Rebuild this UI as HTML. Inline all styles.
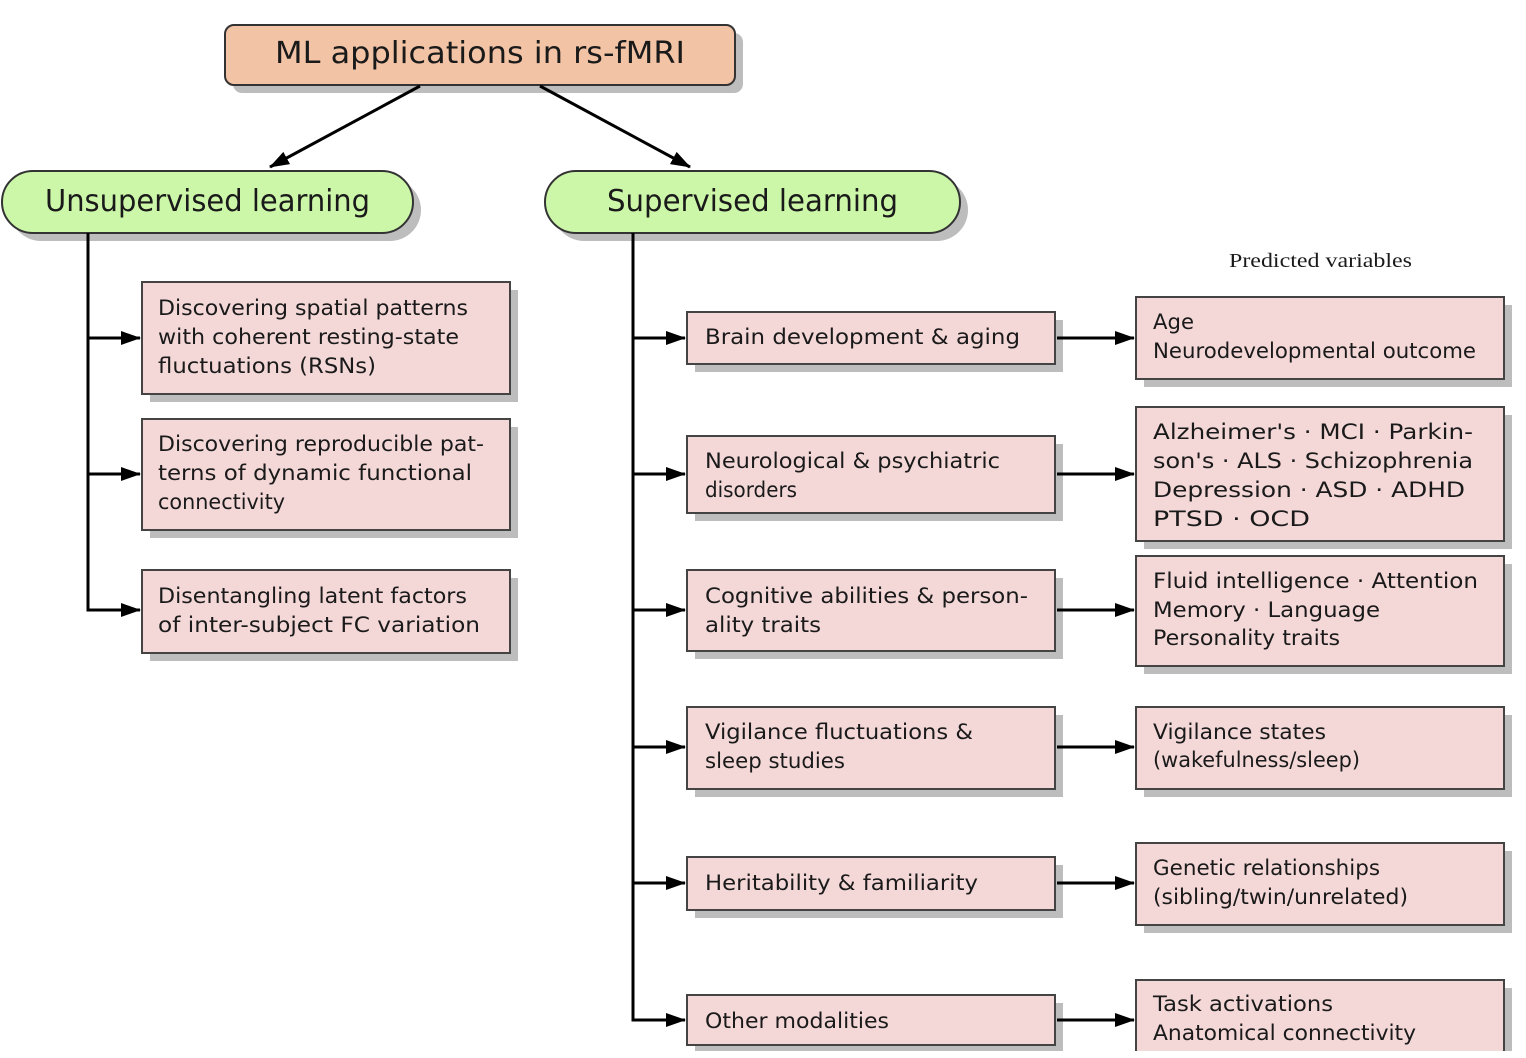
<!DOCTYPE html>
<html><head><meta charset="utf-8"><style>
html,body{margin:0;padding:0;background:#fff;}
svg{display:block;}
text{font-family:"DejaVu Sans","Liberation Sans",sans-serif;fill:#1a1a1a;}
.t{font-size:21px;}
</style></head><body>
<svg width="1526" height="1058" viewBox="0 0 1526 1058" xmlns="http://www.w3.org/2000/svg">
<defs>
<marker id="ah2" markerWidth="20" markerHeight="16" refX="19" refY="8" orient="auto" markerUnits="userSpaceOnUse" viewBox="0 0 20 16">
<path d="M0,1 L20,8 L0,15 Z" fill="#000"/></marker>
</defs>
<rect width="1526" height="1058" fill="#fff"/>

<g fill="#bdbdbd">
<rect x="233" y="33" width="510" height="60" rx="9"/>
<rect x="10" y="179" width="411" height="62" rx="31"/>
<rect x="553" y="179" width="415" height="62" rx="31"/>
<rect x="150" y="290" width="368" height="112"/>
<rect x="150" y="427" width="368" height="111"/>
<rect x="150" y="578" width="368" height="83"/>
<rect x="695" y="320" width="368" height="52"/>
<rect x="695" y="444" width="368" height="77"/>
<rect x="695" y="578" width="368" height="81"/>
<rect x="695" y="715" width="368" height="82"/>
<rect x="695" y="865" width="368" height="53"/>
<rect x="695" y="1003" width="368" height="50"/>
<rect x="1144" y="305" width="368" height="82"/>
<rect x="1144" y="415" width="368" height="134"/>
<rect x="1144" y="564" width="368" height="110"/>
<rect x="1144" y="715" width="368" height="82"/>
<rect x="1144" y="851" width="368" height="82"/>
<rect x="1144" y="988" width="368" height="80"/>
</g>

<rect x="225" y="25" width="510" height="60" rx="9" fill="#f2c3a5" stroke="#333" stroke-width="2"/>
<rect x="2" y="171" width="411" height="62" rx="31" fill="#ccf7a9" stroke="#333" stroke-width="2"/>
<rect x="545" y="171" width="415" height="62" rx="31" fill="#ccf7a9" stroke="#333" stroke-width="2"/>
<g fill="#f4d8d8" stroke="#444" stroke-width="2">
<rect x="142" y="282" width="368" height="112"/>
<rect x="142" y="419" width="368" height="111"/>
<rect x="142" y="570" width="368" height="83"/>
<rect x="687" y="312" width="368" height="52"/>
<rect x="687" y="436" width="368" height="77"/>
<rect x="687" y="570" width="368" height="81"/>
<rect x="687" y="707" width="368" height="82"/>
<rect x="687" y="857" width="368" height="53"/>
<rect x="687" y="995" width="368" height="50"/>
<rect x="1136" y="297" width="368" height="82"/>
<rect x="1136" y="407" width="368" height="134"/>
<rect x="1136" y="556" width="368" height="110"/>
<rect x="1136" y="707" width="368" height="82"/>
<rect x="1136" y="843" width="368" height="82"/>
<rect x="1136" y="980" width="368" height="90"/>
</g>

<g stroke="#000" stroke-width="3" fill="none">
<line x1="420" y1="86" x2="270" y2="167" marker-end="url(#ah2)"/>
<line x1="540" y1="86" x2="690" y2="167" marker-end="url(#ah2)"/>
<path d="M88,233 V610 H140" marker-end="url(#ah2)"/>
<line x1="88" y1="338" x2="140" y2="338" marker-end="url(#ah2)"/>
<line x1="88" y1="474" x2="140" y2="474" marker-end="url(#ah2)"/>
<path d="M633,233 V1020 H685" marker-end="url(#ah2)"/>
<line x1="633" y1="338" x2="685" y2="338" marker-end="url(#ah2)"/>
<line x1="633" y1="474" x2="685" y2="474" marker-end="url(#ah2)"/>
<line x1="633" y1="610" x2="685" y2="610" marker-end="url(#ah2)"/>
<line x1="633" y1="747" x2="685" y2="747" marker-end="url(#ah2)"/>
<line x1="633" y1="883" x2="685" y2="883" marker-end="url(#ah2)"/>
<line x1="1057" y1="338" x2="1134" y2="338" marker-end="url(#ah2)"/>
<line x1="1057" y1="474" x2="1134" y2="474" marker-end="url(#ah2)"/>
<line x1="1057" y1="610" x2="1134" y2="610" marker-end="url(#ah2)"/>
<line x1="1057" y1="747" x2="1134" y2="747" marker-end="url(#ah2)"/>
<line x1="1057" y1="883" x2="1134" y2="883" marker-end="url(#ah2)"/>
<line x1="1057" y1="1020" x2="1134" y2="1020" marker-end="url(#ah2)"/>
</g>

<text x="275" y="63" font-size="30" textLength="410" lengthAdjust="spacingAndGlyphs">ML applications in rs-fMRI</text>
<text x="45" y="211" font-size="30" textLength="325" lengthAdjust="spacingAndGlyphs">Unsupervised learning</text>
<text x="607" y="211" font-size="30" textLength="291" lengthAdjust="spacingAndGlyphs">Supervised learning</text>
<text x="1229" y="267" font-size="20" textLength="183" lengthAdjust="spacingAndGlyphs" style="font-family:'Liberation Serif',serif">Predicted variables</text>

<g class="t">
<text x="158" y="315" textLength="310" lengthAdjust="spacingAndGlyphs">Discovering spatial patterns</text>
<text x="158" y="344" textLength="301" lengthAdjust="spacingAndGlyphs">with coherent resting-state</text>
<text x="158" y="373" textLength="218" lengthAdjust="spacingAndGlyphs">fluctuations (RSNs)</text>
<text x="158" y="451" textLength="326" lengthAdjust="spacingAndGlyphs">Discovering reproducible pat-</text>
<text x="158" y="480" textLength="314" lengthAdjust="spacingAndGlyphs">terns of dynamic functional</text>
<text x="158" y="509" textLength="127" lengthAdjust="spacingAndGlyphs">connectivity</text>
<text x="158" y="603" textLength="309" lengthAdjust="spacingAndGlyphs">Disentangling latent factors</text>
<text x="158" y="632" textLength="322" lengthAdjust="spacingAndGlyphs">of inter-subject FC variation</text>

<text x="705" y="344" textLength="315" lengthAdjust="spacingAndGlyphs">Brain development &amp; aging</text>
<text x="705" y="468" textLength="295" lengthAdjust="spacingAndGlyphs">Neurological &amp; psychiatric</text>
<text x="705" y="497" textLength="92" lengthAdjust="spacingAndGlyphs">disorders</text>
<text x="705" y="603" textLength="323" lengthAdjust="spacingAndGlyphs">Cognitive abilities &amp; person-</text>
<text x="705" y="632" textLength="116" lengthAdjust="spacingAndGlyphs">ality traits</text>
<text x="705" y="739" textLength="268" lengthAdjust="spacingAndGlyphs">Vigilance fluctuations &amp;</text>
<text x="705" y="768" textLength="140" lengthAdjust="spacingAndGlyphs">sleep studies</text>
<text x="705" y="890" textLength="273" lengthAdjust="spacingAndGlyphs">Heritability &amp; familiarity</text>
<text x="705" y="1028" textLength="184" lengthAdjust="spacingAndGlyphs">Other modalities</text>

<text x="1153" y="329" textLength="41" lengthAdjust="spacingAndGlyphs">Age</text>
<text x="1153" y="358" textLength="323" lengthAdjust="spacingAndGlyphs">Neurodevelopmental outcome</text>
<text x="1153" y="439" textLength="320" lengthAdjust="spacingAndGlyphs">Alzheimer's · MCI · Parkin-</text>
<text x="1153" y="468" textLength="320" lengthAdjust="spacingAndGlyphs">son's · ALS · Schizophrenia</text>
<text x="1153" y="497" textLength="312" lengthAdjust="spacingAndGlyphs">Depression · ASD · ADHD</text>
<text x="1153" y="526" textLength="157" lengthAdjust="spacingAndGlyphs">PTSD · OCD</text>
<text x="1153" y="588" textLength="325" lengthAdjust="spacingAndGlyphs">Fluid intelligence · Attention</text>
<text x="1153" y="617" textLength="227" lengthAdjust="spacingAndGlyphs">Memory · Language</text>
<text x="1153" y="645" textLength="187" lengthAdjust="spacingAndGlyphs">Personality traits</text>
<text x="1153" y="739" textLength="173" lengthAdjust="spacingAndGlyphs">Vigilance states</text>
<text x="1153" y="767" textLength="207" lengthAdjust="spacingAndGlyphs">(wakefulness/sleep)</text>
<text x="1153" y="875" textLength="227" lengthAdjust="spacingAndGlyphs">Genetic relationships</text>
<text x="1153" y="904" textLength="255" lengthAdjust="spacingAndGlyphs">(sibling/twin/unrelated)</text>
<text x="1153" y="1011" textLength="180" lengthAdjust="spacingAndGlyphs">Task activations</text>
<text x="1153" y="1040" textLength="263" lengthAdjust="spacingAndGlyphs">Anatomical connectivity</text>
</g>
<rect x="0" y="1051" width="1526" height="7" fill="#fff"/>
</svg>
</body></html>
